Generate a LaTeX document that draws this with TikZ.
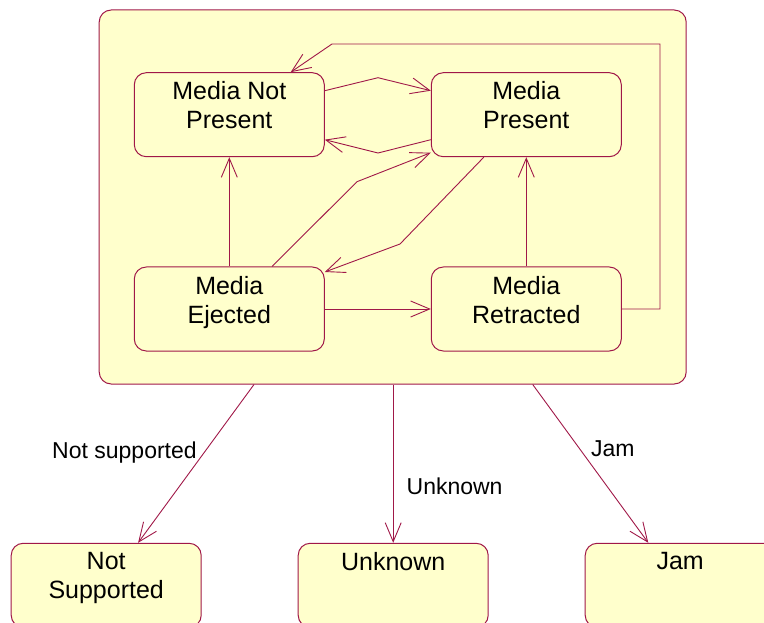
\documentclass[tikz,border=0pt]{standalone}
\usepackage{fontspec}
\setmainfont{Liberation Sans}
\usetikzlibrary{arrows.meta,positioning}
\definecolor{roseline}{RGB}{160,24,72}
\definecolor{rosefill}{RGB}{255,255,204}

\begin{document}
\begin{tikzpicture}[x=1pt,y=-1pt,>={Straight Barb[length=19pt,width=16pt]},
  statebox/.style={draw=roseline,fill=rosefill,line width=1pt,rounded corners=12pt,
    minimum width=190pt,minimum height=84pt,inner sep=0pt,on grid},
  statetext/.style={align=center,inner sep=0pt,font=\fontsize{25}{29}\selectfont},
  trans/.style={->,draw=roseline,line width=0.9pt},
  lbl/.style={inner sep=0pt,font=\fontsize{23}{28}\selectfont}]
  \clip (0,0) rectangle (764,623);
  % superstate
  \node[statebox,minimum width=587pt,minimum height=374pt] (media) at (392.7,197) {};
  \node[statebox] (notpresent) at (229.3,114.7) {};
  \node[statebox] (present) [right=297pt of notpresent] {};
  \node[statebox] (ejected) [below=194.3pt of notpresent] {};
  \node[statebox] (retracted) [right=297pt of ejected] {};
  % final states
  \node[statebox] (unknown) at (393.2,585.3) {};
  \node[statebox] (notsupp) [left=287pt of unknown] {};
  \node[statebox] (jam) [right=287pt of unknown] {};
  \node[statetext] (notpresenttxt) [below=9.2pt of notpresent.north] {Media Not\\Present};
  \node[statetext] (presenttxt) [below=9.2pt of present.north] {Media\\Present};
  \node[statetext] (ejectedtxt) [below=9.2pt of ejected.north] {Media\\Ejected};
  \node[statetext] (retractedtxt) [below=9.2pt of retracted.north] {Media\\Retracted};
  \node[statetext] (notsupptxt) [below=9.2pt of notsupp.north] {Not\\Supported};
  \node[statetext] (unknowntxt) [below=9.2pt of unknown.north] {Unknown};
  \node[statetext] (jamtxt) [below=9.2pt of jam.north] {Jam};
  % transitions
  \draw[trans] ([yshift=24pt]notpresent.east) -- (378,77.7) -- ([yshift=24pt]present.west);
  \draw[trans] ([yshift=-25pt]present.west) -- (378,153) -- ([yshift=-25pt]notpresent.east);
  \draw[trans] (ejected) -- (notpresent);
  \draw[trans] (retracted) -- (present);
  \draw[trans] (ejected) -- (retracted);
  \draw[trans] ([xshift=42.7pt]ejected.north) -- (357,181.7) -- ([yshift=-38pt]present.west);
  \draw[trans] ([xshift=-42.5pt]present.south) -- (400,244) -- ([yshift=37pt]ejected.east);
  \draw[trans] (retracted.east) -| (660,44) -- (332,44) -- ([xshift=61.4pt]notpresent.north);
  \draw[trans] ([xshift=-138.7pt]media.south) -- node[lbl,left=7pt,pos=0.43] (notsupplbl) {Not supported} ([xshift=31.9pt]notsupp.north);
  \draw[trans] (unknown.north |- media.south) -- node[lbl,right=13pt,pos=0.64] (unknownlbl) {Unknown} (unknown.north);
  \draw[trans] ([xshift=140pt]media.south) -- node[lbl,right=10.8pt,pos=0.408] (jamlbl) {Jam} ([xshift=-31.9pt]jam.north);
\end{tikzpicture}
\end{document}
